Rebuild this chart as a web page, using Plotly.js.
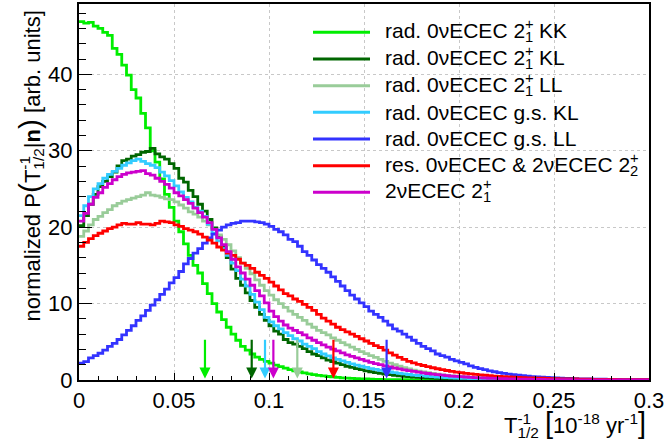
<!DOCTYPE html>
<html><head><meta charset="utf-8">
<script src="https://cdn.plot.ly/plotly-3.0.1.min.js"></script>
<style>html,body{margin:0;padding:0;background:#fff;}</style>
</head><body>
<div id="chart" style="width:667px;height:441px;"></div>
<script>
// ---------------- data ----------------
const binWidth = 0.0025;   // histogram bin width (x units)
const xStart = 0;

const radKK = [46.9,46.7,46.8,46.3,46.0,45.5,45.1,43.4,42.6,41.2,
  39.9,38.0,36.9,34.9,33.0,30.0,28.5,26.3,24.3,22.6,
  20.8,19.4,17.8,16.3,15.0,14.0,12.6,11.3,10.0,8.9,
  7.9,6.9,6.0,5.2,4.4,3.9,3.4,3.0,2.7,2.45,
  2.2,1.95,1.75,1.55,1.35,1.2,1.05,0.92,0.8,0.7,
  0.61,0.53,0.46,0.4,0.34,0.29,0.25,0.21,0.18,0.15,
  0.13,0.11,0.09,0.08,0.06,0.05,0.04,0.04,0.03,0.03,
  0.02,0.02,0.01,0.01,0.01,0,0,0,0,0,
  0,0,0,0,0,0,0,0,0,0,
  0,0,0,0,0,0,0,0,0,0,
  0,0,0,0,0,0,0,0,0,0,
  0,0,0,0,0,0,0,0,0,0];

const radKL = [20.2,21.5,23.0,24.3,25.3,26.0,26.6,27.2,28.0,28.7,
  28.9,29.3,29.5,29.8,29.9,30.3,29.6,29.2,28.9,28.3,
  27.7,26.4,25.9,24.8,24.0,23.0,22.1,21.0,19.9,18.8,
  17.5,16.0,14.5,13.3,12.4,11.4,10.4,9.5,8.6,7.8,
  7.1,6.4,6.0,5.3,4.9,4.7,4.4,4.1,3.7,3.4,
  3.2,2.9,2.6,2.4,2.2,2.0,1.8,1.65,1.5,1.35,
  1.2,1.08,0.97,0.87,0.78,0.7,0.62,0.55,0.49,0.44,
  0.39,0.35,0.31,0.27,0.24,0.21,0.19,0.17,0.15,0.13,
  0.11,0.1,0.09,0.08,0.07,0.06,0.05,0.045,0.04,0.035,
  0.03,0.025,0.02,0.02,0.015,0.01,0.01,0,0,0,
  0,0,0,0,0,0,0,0,0,0,
  0,0,0,0,0,0,0,0,0,0];

const radLL = [18.8,19.5,20.3,21.0,21.4,21.9,22.3,22.8,23.1,23.4,
  23.6,23.8,24.0,24.2,24.5,24.2,24.1,23.9,23.7,23.6,
  23.3,22.9,22.5,22.0,21.7,21.3,20.8,20.3,19.7,19.0,
  18.4,17.7,16.9,16.0,15.3,14.6,13.9,13.1,12.4,11.7,
  11.1,10.5,10.0,9.5,9.0,8.6,8.2,7.8,7.3,6.9,
  6.5,6.2,5.9,5.5,5.2,4.9,4.6,4.3,4.0,3.7,
  3.45,3.2,2.95,2.7,2.45,2.2,2.0,1.8,1.6,1.45,
  1.3,1.17,1.05,0.95,0.85,0.76,0.68,0.61,0.55,0.49,
  0.44,0.39,0.35,0.31,0.28,0.25,0.22,0.2,0.18,0.16,
  0.14,0.12,0.11,0.1,0.09,0.08,0.07,0.06,0.05,0.045,
  0.04,0.035,0.03,0.025,0.02,0.02,0.015,0.01,0.01,0.01,
  0,0,0,0,0,0,0,0,0,0];

const gsKL = [21.5,22.8,24.0,25.0,25.7,26.4,26.9,27.3,27.7,28.1,
  28.4,28.7,28.9,28.6,28.3,28.1,27.8,27.2,26.7,26.1,
  25.4,24.6,23.9,23.3,22.6,22.1,21.4,20.4,19.2,18.2,
  17.2,16.3,15.3,14.3,13.2,12.3,11.2,10.2,9.2,8.2,
  7.6,7.1,6.7,6.2,5.8,5.4,5.1,4.7,4.4,4.1,
  3.7,3.4,3.15,2.9,2.7,2.5,2.3,2.1,1.95,1.8,
  1.65,1.5,1.38,1.26,1.15,1.05,0.96,0.87,0.79,0.72,
  0.65,0.59,0.53,0.48,0.43,0.39,0.35,0.31,0.28,0.25,
  0.22,0.2,0.18,0.16,0.14,0.12,0.11,0.1,0.09,0.08,
  0.07,0.06,0.05,0.045,0.04,0.035,0.03,0.025,0.02,0.02,
  0.015,0.01,0.01,0.01,0,0,0,0,0,0,
  0,0,0,0,0,0,0,0,0,0];

const gsLL = [2.2,2.4,2.9,3.2,3.5,3.9,4.4,4.8,5.3,5.9,
  6.5,7.1,7.8,8.4,9.1,9.8,10.5,11.2,11.9,12.7,
  13.4,14.2,15.2,15.9,16.6,17.2,17.9,18.6,19.1,19.6,
  20.0,20.3,20.5,20.6,20.8,20.8,20.8,20.7,20.6,20.4,
  20.1,19.7,19.4,19.0,18.4,18.1,17.5,16.8,16.3,15.7,
  15.1,14.6,14.1,13.5,12.9,12.3,11.7,11.1,10.6,10.1,
  9.6,9.0,8.6,8.2,7.7,7.2,6.7,6.4,6.0,5.6,
  5.2,4.8,4.4,4.1,3.8,3.4,3.2,3.0,2.7,2.5,
  2.3,2.1,1.85,1.65,1.5,1.35,1.2,1.08,0.97,0.87,
  0.78,0.7,0.63,0.56,0.5,0.45,0.41,0.37,0.33,0.3,
  0.27,0.24,0.22,0.2,0.18,0.16,0.14,0.13,0.12,0.11,
  0.1,0.09,0.08,0.07,0.06,0.055,0.05,0.045,0.04,0.035];

const resonant = [17.5,18.0,18.5,18.9,19.2,19.5,19.8,20.0,20.3,20.5,
  20.4,20.4,20.6,20.4,20.4,20.3,20.5,20.8,20.7,20.6,
  20.3,20.1,19.8,19.6,19.4,19.1,18.7,18.3,17.9,17.4,
  17.0,16.6,16.3,15.8,15.3,15.0,14.6,14.1,13.7,13.3,
  12.8,12.3,11.8,11.3,11.0,10.6,10.3,9.9,9.5,9.1,
  8.6,8.1,7.7,7.3,6.9,6.6,6.3,6.0,5.7,5.4,
  5.1,4.8,4.5,4.25,3.9,3.55,3.25,2.95,2.7,2.45,
  2.25,2.05,1.9,1.75,1.6,1.47,1.35,1.24,1.14,1.04,
  0.95,0.87,0.8,0.73,0.67,0.62,0.57,0.52,0.48,0.44,
  0.41,0.38,0.35,0.32,0.29,0.27,0.25,0.23,0.21,0.19,
  0.17,0.16,0.15,0.14,0.13,0.12,0.11,0.1,0.09,0.08,
  0.075,0.07,0.065,0.06,0.055,0.05,0.045,0.04,0.035,0.03];

const twoNu = [20.8,21.8,23.0,23.9,24.5,25.2,25.7,26.2,26.6,26.9,
  27.1,27.2,27.3,27.4,27.0,26.8,26.4,26.0,25.6,25.1,
  24.5,24.1,23.6,23.1,22.5,21.9,21.3,20.6,19.7,18.6,
  17.7,16.8,15.8,14.8,14.0,13.2,12.4,11.7,11.0,10.1,
  9.0,8.3,7.7,7.2,6.8,6.5,6.2,5.9,5.5,5.2,
  4.9,4.6,4.3,4.05,3.8,3.55,3.3,3.1,2.9,2.7,
  2.5,2.3,2.15,2.0,1.85,1.7,1.57,1.45,1.33,1.22,
  1.12,1.02,0.93,0.85,0.77,0.7,0.64,0.58,0.52,0.47,
  0.43,0.39,0.35,0.32,0.29,0.26,0.23,0.21,0.19,0.17,
  0.15,0.13,0.12,0.11,0.1,0.09,0.08,0.07,0.06,0.05,
  0.045,0.04,0.035,0.03,0.025,0.02,0.02,0.015,0.01,0.01,
  0,0,0,0,0,0,0,0,0,0];

// upper limits (arrows), same order as the series
const limitValues = [0.0663, 0.0909, 0.1149, 0.0979, 0.1619, 0.1339, 0.1023];

const seriesValues = [radKK, radKL, radLL, gsKL, gsLL, resonant, twoNu];
const seriesColors = ['#00ee00', '#006600', '#99cc99', '#33ccff', '#3333ff', '#ff0000', '#cc00cc'];

// legend label pieces: [text before stacked script, superscript, subscript, text after]
const legendParts = [
  ['rad. 0νECEC 2', '+', '1', ' KK'],
  ['rad. 0νECEC 2', '+', '1', ' KL'],
  ['rad. 0νECEC 2', '+', '1', ' LL'],
  ['rad. 0νECEC g.s. KL', '', '', ''],
  ['rad. 0νECEC g.s. LL', '', '', ''],
  ['res. 0νECEC &amp; 2νECEC 2', '+', '2', ''],
  ['2νECEC 2', '+', '1', '']
];

// ---------------- helpers ----------------
const FONT = 'Liberation Sans, Arial, Helvetica, sans-serif';
const cnv = document.createElement('canvas').getContext('2d');
function textW(t, size) { cnv.font = size + 'px "Liberation Sans", Arial'; return cnv.measureText(t).width; }
// superscript stacked over subscript (ROOT style)
function stacked(sup, sub, size) {
  if (!sup) return '';
  const s = size * 0.7;
  const w = textW(sup, s);
  const head = sup.slice(0, -1), last = sup.slice(-1);
  return '<sup>' + head + '<span style="letter-spacing:-' + w.toFixed(2) + 'px">' + last + '</span></sup><sub>' + sub + '</sub>';
}

const nBins = radKK.length;
const edges = [];
for (let i = 0; i <= nBins; i++) edges.push(+(xStart + i * binWidth).toFixed(6));

const traces = seriesValues.map((v, i) => ({
  type: 'scatter', mode: 'lines',
  x: edges, y: v.concat([v[v.length - 1]]),
  line: { shape: 'hv', color: seriesColors[i], width: 2.8 },
  hoverinfo: 'skip', showlegend: false
}));

// ---------------- layout ----------------
const L = 79, R = 649, T = 4, B = 380;          // plot box in pixels
const px = p => (p - L) / (R - L);
const py = p => (B - p) / (B - T);

const annotations = [];
const shapes = [];

// arrows for limits
limitValues.forEach((lx, i) => {
  annotations.push({
    x: lx, y: 0.2, xref: 'x', yref: 'y',
    ax: lx, ay: 5.45, axref: 'x', ayref: 'y',
    text: '', showarrow: true, arrowhead: 2, arrowsize: 1, arrowwidth: 2.2,
    arrowcolor: seriesColors[i], standoff: 0
  });
});

// legend background
shapes.push({ type: 'rect', xref: 'paper', yref: 'paper', layer: 'between',
  x0: px(300), x1: px(628), y0: py(205), y1: py(17),
  fillcolor: '#ffffff', line: { width: 0 } });

const legSize = 21;
const rowY0 = 32.3, rowStep = 26.67;
legendParts.forEach((p, i) => {
  const yy = rowY0 + i * rowStep;
  shapes.push({ type: 'line', xref: 'paper', yref: 'paper',
    x0: px(313), x1: px(370), y0: py(yy), y1: py(yy),
    line: { color: seriesColors[i], width: 3 } });
  annotations.push({
    xref: 'paper', yref: 'paper', x: px(383), y: py(yy),
    xanchor: 'left', yanchor: 'middle', showarrow: false,
    text: p[0] + stacked(p[1], p[2], legSize) + p[3],
    font: { family: FONT, size: legSize, color: '#000' }
  });
});

const titleSize = 22;
// x-axis title
annotations.push({
  xref: 'paper', yref: 'paper', x: px(648), y: py(405),
  xanchor: 'right', yanchor: 'top', showarrow: false,
  text: 'T' + stacked('-1', '1/2', titleSize) + ' <span style="font-size:29px">[</span>10<sup>-18</sup> yr<sup>-1</sup><span style="font-size:29px">]</span>',
  font: { family: FONT, size: titleSize, color: '#000' }
});
// y-axis title
annotations.push({
  xref: 'paper', yref: 'paper', x: px(30), y: py(9),
  xanchor: 'center', yanchor: 'top', showarrow: false, textangle: -90,
  text: 'normalized P<span style="font-size:30px">(</span>T' + stacked('-1', '1/2', titleSize) + '|<b>n</b><span style="font-size:30px">)</span> [arb. units]',
  font: { family: FONT, size: titleSize, color: '#000' }
});

const layout = {
  width: 667, height: 441,
  margin: { l: L, r: 667 - R, t: T, b: 441 - B, pad: 0 },
  paper_bgcolor: '#fff', plot_bgcolor: '#fff',
  font: { family: FONT, size: 22, color: '#000' },
  showlegend: false,
  xaxis: {
    range: [0, 0.3], dtick: 0.05, tick0: 0,
    ticks: 'inside', ticklen: 7, tickwidth: 1, tickcolor: '#000',
    minor: { dtick: 0.01, ticks: 'inside', ticklen: 4, tickwidth: 1, tickcolor: '#000', showgrid: false },
    showline: true, linecolor: '#000', linewidth: 2, mirror: true,
    showgrid: true, gridcolor: '#c8c8c8', griddash: 'dot', gridwidth: 1,
    zeroline: false, tickfont: { family: FONT, size: 22, color: '#000' }
  },
  yaxis: {
    range: [0, 49.2], dtick: 10, tick0: 0,
    ticks: 'inside', ticklen: 13, tickwidth: 1, tickcolor: '#000',
    minor: { dtick: 2, ticks: 'inside', ticklen: 7, tickwidth: 1, tickcolor: '#000', showgrid: false },
    showline: true, linecolor: '#000', linewidth: 2, mirror: true,
    showgrid: true, gridcolor: '#c8c8c8', griddash: 'dot', gridwidth: 1,
    zeroline: false, tickfont: { family: FONT, size: 22, color: '#000' }
  },
  annotations: annotations,
  shapes: shapes
};

Plotly.newPlot('chart', traces, layout, { displayModeBar: false, staticPlot: true });
</script>
</body></html>
